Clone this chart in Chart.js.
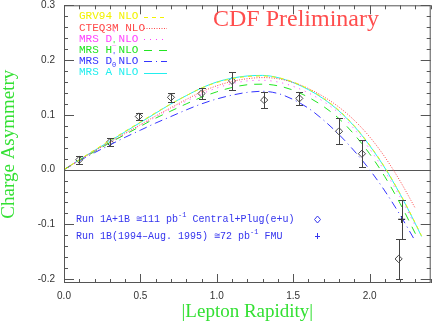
<!DOCTYPE html>
<html>
<head>
<meta charset="utf-8">
<script src="https://cdn.jsdelivr.net/npm/chart.js@4.4.1/dist/chart.umd.min.js"></script>
<style>
  html, body { margin: 0; padding: 0; background: #fff; }
  #chart { display: block; }
</style>
</head>
<body>
<canvas id="chart" width="436" height="322"></canvas>
<script>
// Theory curves, sampled on a common rapidity grid
const curveX = [0, 0.1, 0.2, 0.3, 0.4, 0.5, 0.6, 0.7, 0.8, 0.9, 1.0, 1.1,
                1.2, 1.3, 1.4, 1.5, 1.6, 1.7, 1.8, 1.9, 2.0, 2.1, 2.2, 2.3];
const curveXLong = curveX.concat([2.34]);

const grv94 = [0, 0.018, 0.036, 0.053, 0.070, 0.087, 0.104, 0.120, 0.135, 0.149, 0.159, 0.166,
               0.170, 0.171, 0.168, 0.160, 0.147, 0.130, 0.108, 0.080, 0.045, 0.004, -0.044, -0.098, -0.121];
const cteq3m = [0, 0.017, 0.034, 0.050, 0.066, 0.082, 0.098, 0.113, 0.128, 0.142, 0.153, 0.161,
                0.166, 0.168, 0.166, 0.159, 0.148, 0.133, 0.114, 0.090, 0.060, 0.023, -0.021, -0.071];
const mrsDminus = [0, 0.018, 0.034, 0.050, 0.066, 0.081, 0.096, 0.111, 0.125, 0.138, 0.149, 0.157,
                   0.162, 0.163, 0.160, 0.152, 0.140, 0.124, 0.103, 0.074, 0.038, -0.003, -0.050, -0.103];
const mrsH = [0, 0.017, 0.033, 0.049, 0.064, 0.079, 0.094, 0.107, 0.120, 0.132, 0.142, 0.150,
              0.155, 0.156, 0.153, 0.145, 0.132, 0.115, 0.093, 0.064, 0.029, -0.013, -0.062, -0.117];
const mrsD0 = [0, 0.016, 0.031, 0.045, 0.059, 0.072, 0.085, 0.097, 0.109, 0.120, 0.129, 0.136,
               0.141, 0.143, 0.139, 0.128, 0.112, 0.090, 0.064, 0.034, 0.000, -0.039, -0.083, -0.131];
const mrsA = [0, 0.018, 0.035, 0.052, 0.069, 0.086, 0.103, 0.120, 0.135, 0.149, 0.160, 0.167,
              0.171, 0.172, 0.168, 0.159, 0.146, 0.129, 0.107, 0.079, 0.044, 0.003, -0.045, -0.099, -0.122];

// Measurements: Central+Plug (e+u)
const cpX = [0.1, 0.3, 0.49, 0.7, 0.9, 1.1, 1.31, 1.54, 1.8, 1.95, 2.19];
const cpY = [0.018, 0.050, 0.097, 0.132, 0.139, 0.162, 0.127, 0.130, 0.070, 0.029, -0.163];
const cpErr = [0.0075, 0.007, 0.007, 0.0085, 0.010, 0.016, 0.014, 0.012, 0.024, 0.025, 0.036];

// Measurements: FMU
const fmuX = [2.21];
const fmuY = [-0.091];
const fmuErr = [0.036];

// Axis ticks and labels
const xTicks = [0, 0.5, 1.0, 1.5, 2.0];
const yTicks = [-0.2, -0.1, 0, 0.1, 0.2, 0.3];

const legendNames = ['GRV94 NLO', 'CTEQ3M NLO', 'MRS D NLO', 'MRS H NLO', 'MRS D NLO', 'MRS A NLO'];
const legendSub = ['', '', '_', '', '0', ''];
const legendSup = ['', '', "'", "'", "'", ''];
const runLabels = [
  ['Run 1A+1B \u2245111 pb', '-1', ' Central+Plug(e+u)'],
  ['Run 1B(1994\u2013Aug. 1995) \u224572 pb', '-1', ' FMU']
];

const toPoints = (xs, ys) => ys.map((v, i) => ({ x: xs[i], y: v }));

const curveStyle = (label, xs, ys, color, dash) => ({
  type: 'line',
  label,
  data: toPoints(xs, ys),
  borderColor: color,
  borderWidth: 1,
  borderDash: dash,
  pointRadius: 0,
  fill: false,
  cubicInterpolationMode: 'monotone'
});

const datasets = [
  curveStyle('GRV94 NLO', curveXLong, grv94, '#f2f200', [4, 4]),
  curveStyle('CTEQ3M NLO', curveX, cteq3m, '#ff4a4a', [1, 1.5]),
  curveStyle('MRS D- NLO', curveX, mrsDminus, '#ff40ff', [1, 5]),
  curveStyle('MRS H NLO', curveX, mrsH, '#22e622', [8, 7]),
  curveStyle('MRS D0 NLO', curveX, mrsD0, '#3434ff', [8, 4, 1, 4]),
  curveStyle('MRS A NLO', curveXLong, mrsA, '#22eeee', []),
  {
    type: 'scatter',
    label: 'Central+Plug',
    data: toPoints(cpX, cpY),
    errors: cpErr,
    pointStyle: 'rectRot',
    pointRadius: 3.6,
    borderColor: '#444',
    borderWidth: 1,
    backgroundColor: 'rgba(0,0,0,0)'
  },
  {
    type: 'scatter',
    label: 'FMU',
    data: toPoints(fmuX, fmuY),
    errors: fmuErr,
    pointStyle: 'cross',
    pointRadius: 3.5,
    borderColor: '#333',
    borderWidth: 1.3,
    backgroundColor: 'rgba(0,0,0,0)'
  }
];

// Zero line under the curves
const zeroLine = {
  id: 'zeroLine',
  beforeDatasetsDraw(chart) {
    const { ctx, chartArea: a, scales: { y } } = chart;
    const py = Math.round(y.getPixelForValue(0)) + 0.5;
    ctx.save();
    ctx.strokeStyle = '#555';
    ctx.lineWidth = 1;
    ctx.beginPath();
    ctx.moveTo(a.left, py);
    ctx.lineTo(a.right, py);
    ctx.stroke();
    ctx.restore();
  }
};

// Vertical error bars with caps
const errorBars = {
  id: 'errorBars',
  afterDatasetsDraw(chart) {
    const { ctx, scales: { x, y } } = chart;
    ctx.save();
    ctx.strokeStyle = '#444';
    ctx.lineWidth = 1;
    chart.data.datasets.forEach(ds => {
      if (!ds.errors) return;
      ds.data.forEach((p, i) => {
        const px = Math.round(x.getPixelForValue(p.x)) + 0.5;
        const top = Math.round(y.getPixelForValue(p.y + ds.errors[i])) + 0.5;
        const bot = Math.round(y.getPixelForValue(p.y - ds.errors[i])) + 0.5;
        ctx.beginPath();
        ctx.moveTo(px, top); ctx.lineTo(px, bot);
        ctx.moveTo(px - 3.5, top); ctx.lineTo(px + 3.5, top);
        ctx.moveTo(px - 3.5, bot); ctx.lineTo(px + 3.5, bot);
        ctx.stroke();
      });
    });
    ctx.restore();
  }
};

// Box frame with inward ticks on all four sides
const frameTicks = {
  id: 'frameTicks',
  afterDraw(chart) {
    const { ctx, chartArea: a, scales: { x, y } } = chart;
    ctx.save();
    ctx.strokeStyle = '#555';
    ctx.lineWidth = 1;
    ctx.strokeRect(a.left + 0.5, a.top + 0.5, a.right - a.left - 1, a.bottom - a.top - 1);
    ctx.beginPath();
    for (let i = 0; i <= 24; i++) {
      const px = Math.round(x.getPixelForValue(i / 10)) + 0.5;
      const len = i % 5 === 0 ? 9 : 4;
      ctx.moveTo(px, a.bottom); ctx.lineTo(px, a.bottom - len);
      ctx.moveTo(px, a.top); ctx.lineTo(px, a.top + len);
    }
    for (let i = -10; i <= 15; i++) {
      const py = Math.round(y.getPixelForValue(i * 0.02)) + 0.5;
      const len = i % 5 === 0 ? 10 : 4;
      ctx.moveTo(a.left, py); ctx.lineTo(a.left + len, py);
      ctx.moveTo(a.right, py); ctx.lineTo(a.right - len, py);
    }
    ctx.stroke();
    ctx.restore();
  }
};

// Legend, run labels and the CDF Preliminary stamp
const annotations = {
  id: 'annotations',
  afterDraw(chart) {
    const { ctx } = chart;
    ctx.save();
    ctx.textBaseline = 'middle';
    ctx.textAlign = 'left';

    const mono = '"Liberation Mono", "DejaVu Sans Mono", monospace';
    legendNames.forEach((name, i) => {
      const ds = chart.data.datasets[i];
      const ly = 16.5 + i * 11.2;
      ctx.fillStyle = ds.borderColor;
      ctx.font = '11px ' + mono;
      ctx.fillText(name, 79, ly);
      ctx.font = '7px ' + mono;
      if (legendSub[i]) ctx.fillText(legendSub[i], 112, ly + 4);
      if (legendSup[i]) ctx.fillText(legendSup[i], 112, ly - 6);
      ctx.strokeStyle = ds.borderColor;
      ctx.lineWidth = 1;
      ctx.setLineDash(ds.borderDash);
      ctx.beginPath();
      ctx.moveTo(144, Math.round(ly) + 0.5);
      ctx.lineTo(167, Math.round(ly) + 0.5);
      ctx.stroke();
      ctx.setLineDash([]);
    });

    ctx.fillStyle = '#3535ee';
    runLabels.forEach((parts, i) => {
      const ry = 219.5 + i * 16.5;
      let rx = 76;
      ctx.font = '10px ' + mono;
      ctx.fillText(parts[0], rx, ry);
      rx += ctx.measureText(parts[0]).width;
      ctx.font = '7px ' + mono;
      ctx.fillText(parts[1], rx, ry - 4);
      rx += ctx.measureText(parts[1]).width;
      ctx.font = '10px ' + mono;
      ctx.fillText(parts[2], rx, ry);
    });

    // symbols for the two run labels
    ctx.strokeStyle = '#3535ee';
    ctx.lineWidth = 1;
    ctx.beginPath();
    ctx.moveTo(317.5, 216); ctx.lineTo(320.5, 219.5); ctx.lineTo(317.5, 223); ctx.lineTo(314.5, 219.5); ctx.closePath();
    ctx.moveTo(317.5, 233); ctx.lineTo(317.5, 239);
    ctx.moveTo(315, 236.5); ctx.lineTo(320, 236.5);
    ctx.stroke();

    ctx.fillStyle = '#ff4d4d';
    ctx.font = '24px "Liberation Serif", "DejaVu Serif", serif';
    ctx.fillText('CDF Preliminary', 213, 20);
    ctx.restore();
  }
};

new Chart(document.getElementById('chart'), {
  data: { datasets },
  options: {
    responsive: false,
    animation: false,
    layout: { padding: { top: 4, right: 1, left: 0, bottom: 0 } },
    plugins: {
      legend: { display: false },
      tooltip: { enabled: false }
    },
    scales: {
      x: {
        type: 'linear',
        min: 0,
        max: 2.4,
        grid: { display: false, drawTicks: false },
        border: { display: false },
        afterBuildTicks: s => { s.ticks = xTicks.map(v => ({ value: v })); },
        afterFit: s => { s.height = 39; s.paddingLeft = 0; s.paddingRight = 0; },
        ticks: {
          autoSkip: false,
          maxRotation: 0,
          padding: 7,
          color: '#333',
          font: { family: '"Liberation Sans", Arial, sans-serif', size: 10 },
          callback: v => v.toFixed(1)
        },
        title: {
          display: true,
          text: '|Lepton Rapidity|',
          color: '#33e033',
          padding: 0,
          font: { family: '"Liberation Serif", "DejaVu Serif", serif', size: 19, lineHeight: 1 }
        }
      },
      y: {
        type: 'linear',
        min: -0.207,
        max: 0.3,
        grid: { display: false, drawTicks: false },
        border: { display: false },
        afterBuildTicks: s => { s.ticks = yTicks.map(v => ({ value: v })); },
        afterFit: s => { s.width = 64; s.paddingTop = 0; s.paddingBottom = 0; },
        ticks: {
          autoSkip: false,
          padding: 9,
          color: '#333',
          font: { family: '"Liberation Sans", Arial, sans-serif', size: 10 },
          callback: v => (v < 0 ? '-' : '') + Math.abs(v).toFixed(1)
        },
        title: {
          display: true,
          text: 'Charge Asymmetry',
          color: '#33e033',
          padding: 0,
          font: { family: '"Liberation Serif", "DejaVu Serif", serif', size: 19, lineHeight: 1 }
        }
      }
    }
  },
  plugins: [zeroLine, errorBars, frameTicks, annotations]
});
</script>
</body>
</html>
